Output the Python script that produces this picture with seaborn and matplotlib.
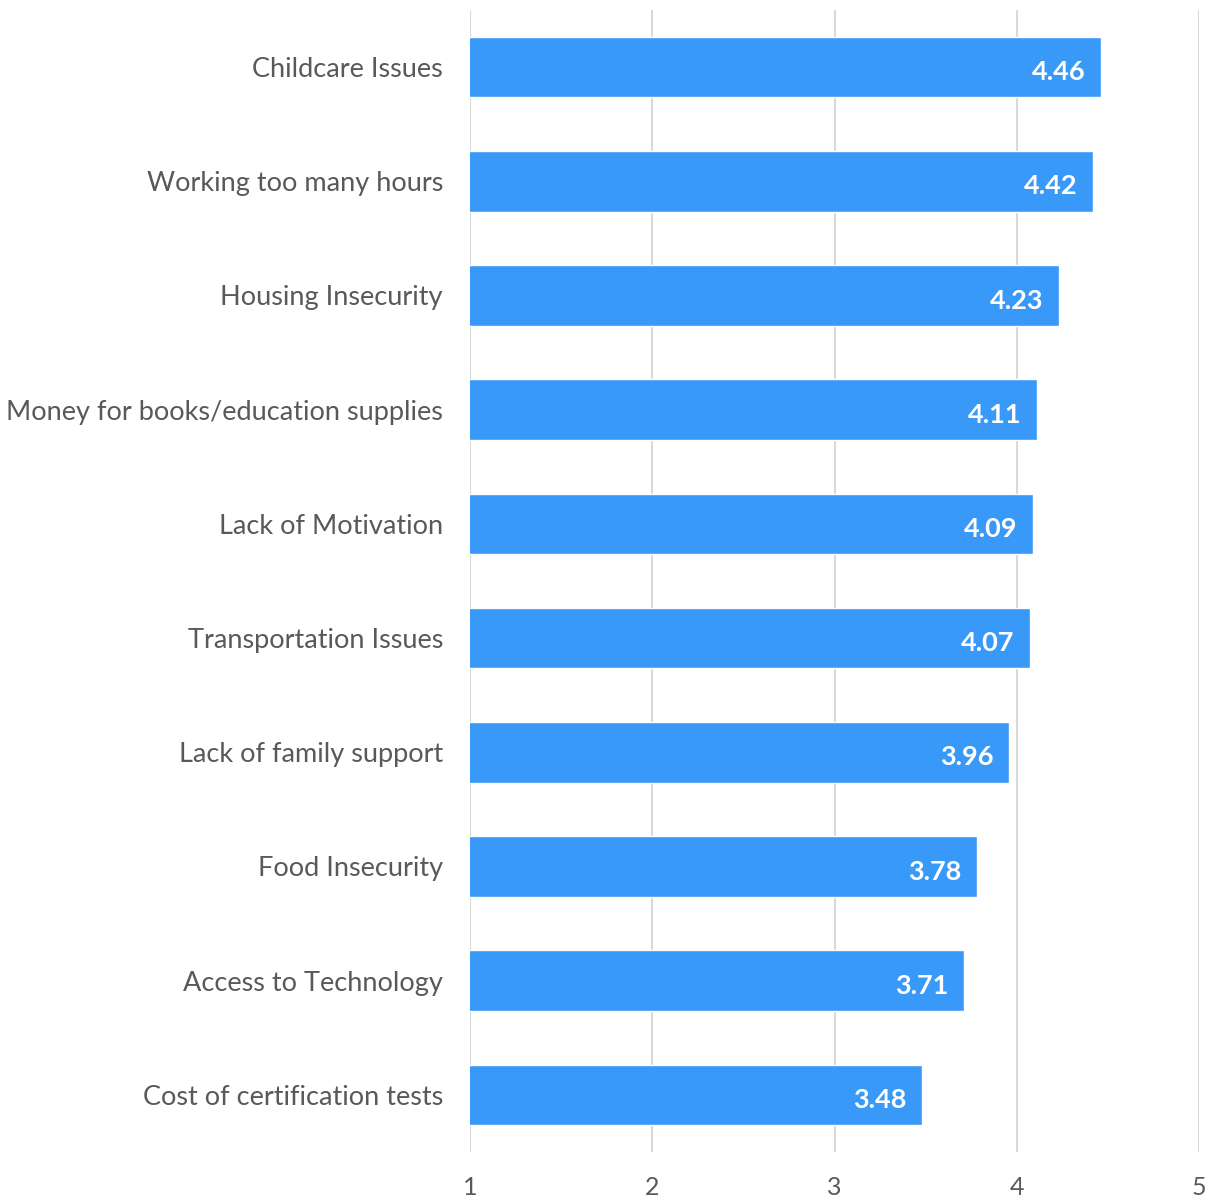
import matplotlib
matplotlib.use("Agg")
import matplotlib.pyplot as plt
import seaborn as sns
import pandas as pd

categories = ["Childcare Issues", "Working too many hours", "Housing Insecurity",
              "Money for books/education supplies", "Lack of Motivation",
              "Transportation Issues", "Lack of family support", "Food Insecurity",
              "Access to Technology", "Cost of certification tests"]
values = [4.46, 4.42, 4.23, 4.11, 4.09, 4.07, 3.96, 3.78, 3.71, 3.48]
xticks = [1, 2, 3, 4, 5]

sns.set_theme(style="white")
plt.rcParams['font.family'] = ['Lato', 'DejaVu Sans']

df = pd.DataFrame({"cat": categories, "val": values})
fig = plt.figure(figsize=(12.09, 12.03), dpi=100)
ax = fig.add_axes([470/1209, 1 - 1152/1203, (1199-470)/1209, (1152-10)/1203])
sns.barplot(data=df, x="val", y="cat", orient="h", color="#3899F8",
            saturation=1, width=0.53, ax=ax)
ax.set_xlim(1, 5)
ax.set_xticks(xticks)
ax.set_xticklabels([str(t) for t in xticks], fontsize=18, color="#595959")
ax.tick_params(axis="x", length=0, pad=17)
ax.tick_params(axis="y", length=0, pad=19.5, labelsize=19.5, labelcolor="#595959")
ax.set_xlabel("")
ax.set_ylabel("")
for s in ax.spines.values():
    s.set_visible(False)
ax.grid(axis="x", color="#D9D9D9", linewidth=1.5)
ax.set_axisbelow(True)
for i, v in enumerate(values):
    ax.text(v - 0.085, i + 0.045, f"{v:.2f}", ha="right", va="center", color="white",
            fontsize=19.5, fontweight="bold")
fig.savefig("out.png", dpi=100)
